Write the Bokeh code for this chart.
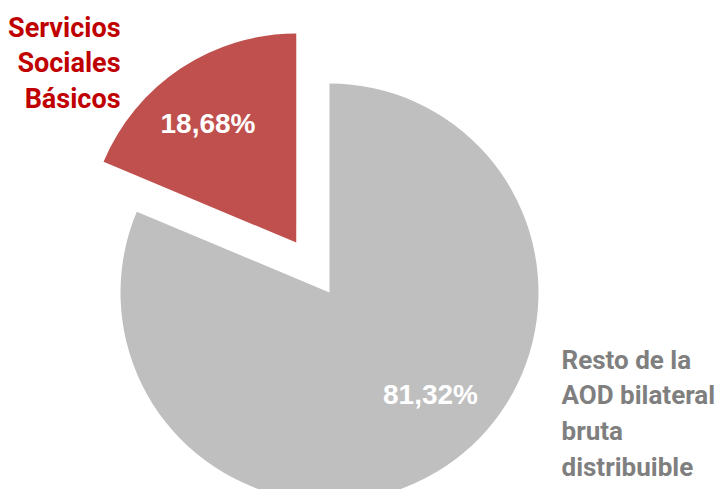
import math
from bokeh.plotting import figure
from bokeh.models import Range1d
from bokeh.core.properties import value
from bokeh.embed import file_html
from bokeh.resources import INLINE

# ---- data ----
categories = ["Servicios Sociales Básicos", "Resto de la AOD bilateral bruta distribuible"]
values = [18.68, 81.32]
pct_labels = ["18,68%", "81,32%"]
red_label_lines = ["Servicios", "Sociales", "Básicos"]
gray_label_lines = ["Resto de la", "AOD bilateral", "bruta", "distribuible"]

# ---- layout / style ----
W, H = 717, 489
slice_colors = ["#C0504D", "#BFBFBF"]
label_colors = ["#C00000", "#7F7F7F"]
cx, cy_screen = 329, 292
R = 209
explode = [60, 0]
TXT_SHIFT = 9  # compensate baseline placement

def sy(y_screen):
    return H - y_screen

p = figure(width=W, height=H, output_backend="svg", toolbar_location=None,
           x_range=Range1d(0, W), y_range=Range1d(0, H),
           x_axis_type=None, y_axis_type=None, min_border=0)
p.grid.visible = False
p.outline_line_color = None
p.background_fill_color = "white"
p.border_fill_color = "white"

total = sum(values)
start = math.pi / 2
for i, v in enumerate(values):
    sweep = v / total * 2 * math.pi
    end = start + sweep
    mid = (start + end) / 2
    x0 = cx + explode[i] * math.cos(mid)
    y0 = sy(cy_screen) + explode[i] * math.sin(mid)
    p.wedge(x=[x0], y=[y0], radius=R, start_angle=[start], end_angle=[end],
            direction="anticlock", fill_color=slice_colors[i], line_color=None)
    start = end

# percentage labels
pct_pos = [(207.5, 132), (430, 403)]
for (lx, ly), t in zip(pct_pos, pct_labels):
    p.text(x=[lx], y=[sy(ly - TXT_SHIFT)], text=[t], text_align="center",
           text_baseline="alphabetic",
           text_font=value("Liberation Sans"), text_font_style="bold",
           text_font_size="28px", text_color="white")

# category labels
for k, t in enumerate(red_label_lines):
    p.text(x=[120], y=[sy(36 + 35.5 * k - TXT_SHIFT)], text=[t], text_align="right",
           text_baseline="alphabetic", text_font=value("Roboto"),
           text_font_style="bold", text_font_size="27px", text_color=label_colors[0])
for k, t in enumerate(gray_label_lines):
    p.text(x=[561], y=[sy(368 + 35.7 * k - TXT_SHIFT)], text=[t], text_align="left",
           text_baseline="alphabetic", text_font=value("Roboto"),
           text_font_style="bold", text_font_size="26px", text_color=label_colors[1])

open("out.html", "w").write(file_html(p, INLINE))
